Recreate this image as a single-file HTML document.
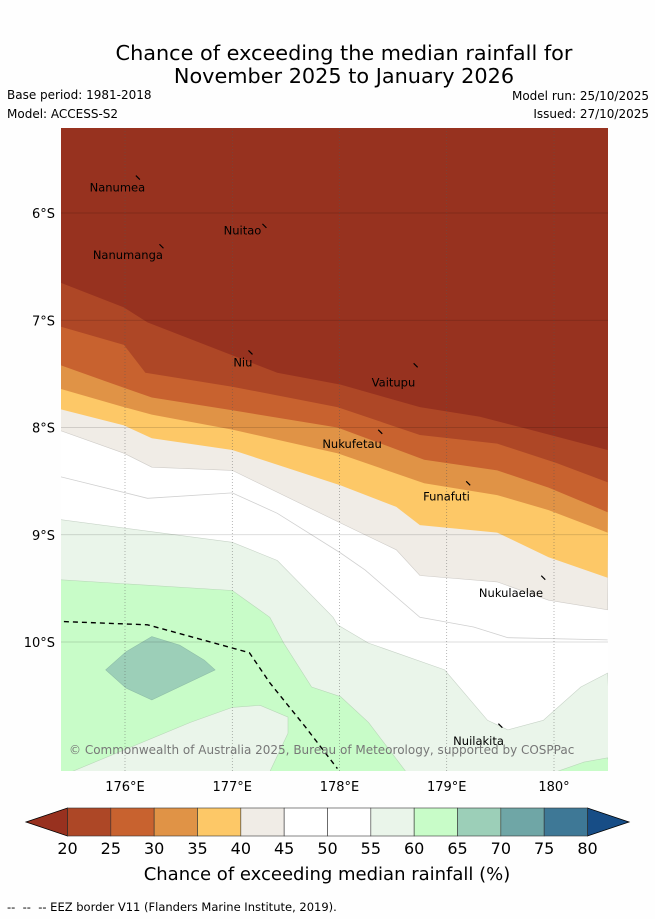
<!DOCTYPE html>
<html><head><meta charset="utf-8"><style>
body{margin:0;background:#fff;}
svg{display:block;font-family:"DejaVu Sans","Liberation Sans",sans-serif;}
</style></head><body>
<svg id="chart" width="655" height="919" viewBox="0 0 655 919">
<rect width="655" height="919" fill="#fefefe"/>
<text x="344" y="60" font-size="20.8" text-anchor="middle">Chance of exceeding the median rainfall for</text>
<text x="344" y="83" font-size="20.8" text-anchor="middle">November 2025 to January 2026</text>
<text x="7" y="99" font-size="12">Base period: 1981-2018</text>
<text x="7" y="118" font-size="12">Model: ACCESS-S2</text>
<text x="649" y="100" font-size="12" text-anchor="end">Model run: 25/10/2025</text>
<text x="649" y="118" font-size="12" text-anchor="end">Issued: 27/10/2025</text>
<g id="map"></g>
<g id="cbar"></g>
<text x="327" y="880" font-size="18" text-anchor="middle">Chance of exceeding median rainfall (%)</text>
<text x="7" y="911" font-size="11.5" xml:space="preserve">--  --  -- EEZ border V11 (Flanders Marine Institute, 2019).</text>
</svg>
<script>
// ---- data ----
const lonTicks = [176,177,178,179,180];
const latTicks = [6,7,8,9,10];
const b20 = [[175.40,6.65],[175.99,6.88],[176.21,7.02],[177.42,7.49],[178.01,7.60],[178.75,7.81],[179.31,7.90],[179.70,8.00],[180.50,8.21]];
const b25 = [[175.40,7.06],[175.99,7.23],[176.19,7.49],[177.00,7.62],[177.98,7.81],[178.75,8.07],[179.47,8.15],[180.02,8.33],[180.50,8.51]];
const b30 = [[175.40,7.42],[175.99,7.63],[176.25,7.72],[177.00,7.84],[177.98,8.00],[178.79,8.30],[179.47,8.40],[179.95,8.56],[180.50,8.79]];
const b35 = [[175.40,7.64],[175.99,7.81],[176.25,7.88],[177.00,8.02],[177.98,8.24],[178.79,8.52],[179.47,8.63],[179.95,8.77],[180.50,8.98]];
const b40 = [[175.40,7.83],[175.99,7.98],[176.25,8.10],[177.00,8.21],[178.01,8.54],[178.53,8.74],[178.75,8.91],[179.47,8.98],[179.95,9.21],[180.50,9.40]];
const b45 = [[175.40,8.03],[175.99,8.24],[176.25,8.37],[177.00,8.40],[178.01,8.89],[178.53,9.14],[178.75,9.38],[179.47,9.44],[179.95,9.61],[180.50,9.70]];
const b50 = [[175.40,8.46],[176.21,8.66],[177.00,8.61],[177.42,8.80],[178.01,9.17],[178.24,9.33],[178.75,9.77],[179.25,9.86],[179.57,9.96],[180.50,9.98]];
const b55 = [[175.40,8.86],[177.00,9.07],[177.42,9.24],[177.94,9.77],[177.98,9.84],[178.27,10.01],[178.98,10.26],[179.38,10.73],[179.57,10.82],[179.90,10.73],[180.25,10.42],[180.50,10.29]];
const b60corner = [[180.02,11.21],[180.28,11.12],[180.50,11.08]];
const b60 = [[175.40,9.42],[177.00,9.52],[177.35,9.77],[177.48,10.01],[177.74,10.42],[178.01,10.51],[178.27,10.75],[178.62,11.21]];
const b60pocket = [[177.35,11.21],[177.52,10.85],[177.52,10.70],[177.26,10.59],[177.00,10.61],[176.61,10.75],[175.50,11.21]];
const b65 = [[175.82,10.26],[176.01,10.09],[176.25,9.95],[176.51,10.03],[176.74,10.17],[176.84,10.26],[176.25,10.54],[176.01,10.43]];
const eez = [[175.43,9.81],[176.21,9.84],[177.16,10.10],[177.35,10.38],[177.68,10.79],[177.98,11.18]];
const islandNames = ["Nanumea","Nuitao","Nanumanga","Niu","Vaitupu","Nukufetau","Funafuti","Nukulaelae","Nuilakita"];
const islandLon = [176.12,177.30,176.34,177.17,178.71,178.38,179.20,179.90,179.50];
const islandLat = [5.67,6.12,6.31,7.30,7.42,8.04,8.52,9.40,10.78];
const labelLon = [175.67,176.92,175.70,177.01,178.30,177.84,178.78,179.30,179.06];
const labelLat = [5.80,6.20,6.43,7.43,7.62,8.19,8.68,9.58,10.96];
const cbLevels = [20,25,30,35,40,45,50,55,60,65,70,75,80];
const cbColors = ["#ad4726","#c8622f","#e09346","#fdc867","#f0ece6","#ffffff","#ffffff","#eaf5ea","#c8fcc8","#9ccfb8","#6fa6a6","#3e7896"];
const cbUnder = "#98311f", cbOver = "#174d86";
const bandColors = {c20:"#97321f",c25:"#ae4726",c30:"#c8622f",c35:"#e09346",c40:"#fdc867",c45:"#f0ece6",c55:"#eaf5ea",c60:"#c8fcc8",c65:"#9ccfb8"};

// ---- axes ----
const L=61,R=608,T=128,B=771;
const x = lon => 125 + (lon-176)*107.25;
const y = lat => 213 + (lat-6)*107.25;
const NS="http://www.w3.org/2000/svg";
const map=document.getElementById('map');
function mk(tag,attrs,parent){const e=document.createElementNS(NS,tag);for(const k in attrs)e.setAttribute(k,attrs[k]);(parent||map).appendChild(e);return e;}
const pts = arr => arr.map(p=>x(p[0]).toFixed(1)+','+y(p[1]).toFixed(1)).join(' ');

const defs=mk('defs',{});
const cp=mk('clipPath',{id:'clip'},defs);mk('rect',{x:L,y:T,width:R-L,height:B-T},cp);
const g=mk('g',{'clip-path':'url(#clip)'});


let r=mk('rect',{x:L,y:T,width:R-L,height:B-T,fill:'#ffffff'},g);


function topBand(line,color,name,stroke){
  const p=mk('polygon',{points:pts(line)+` ${R+5},${T-5} ${L-5},${T-5}`,fill:color,stroke:stroke||'none','stroke-width':0.6},g);
  
  
}
topBand(b45,bandColors.c45,'band-40-45','#cfccc8');
topBand(b40,bandColors.c40,'band-35-40');
topBand(b35,bandColors.c35,'band-30-35');
topBand(b30,bandColors.c30,'band-25-30');
topBand(b25,bandColors.c25,'band-20-25');
topBand(b20,bandColors.c20,'band-below-20');
let p=mk('polyline',{points:pts(b50),fill:'none',stroke:'#d0d0d0','stroke-width':0.8},g);


p=mk('polygon',{points:pts(b55)+` ${R+5},${B+5} ${L-5},${B+5}`,fill:bandColors.c55,stroke:'#c8d4c8','stroke-width':0.6},g);


p=mk('polygon',{points:pts(b60corner)+` ${R+5},${B+5}`,fill:bandColors.c60,stroke:'#b8d8b8','stroke-width':0.6},g);


p=mk('polygon',{points:pts(b60)+' '+pts(b60pocket)+` ${L-5},${B+5}`,fill:bandColors.c60,stroke:'#b8d8b8','stroke-width':0.6},g);


p=mk('polygon',{points:pts(b65),fill:bandColors.c65,stroke:'#8fbfa8','stroke-width':0.6},g);



// gridlines
lonTicks.forEach(v=>{
  const l=mk('line',{x1:x(v),x2:x(v),y1:T,y2:B,stroke:'#555','stroke-width':0.6,'stroke-dasharray':'1,2','stroke-opacity':0.7},g);
  
  
  const t=mk('text',{x:x(v),y:B+20,'font-size':13,'text-anchor':'middle'});
  t.textContent=v===180?'180°':v+'°E';
  
  
});
latTicks.forEach(v=>{
  const l=mk('line',{x1:L,x2:R,y1:y(v),y2:y(v),stroke:'#000','stroke-width':0.8,'stroke-opacity':0.18},g);
  
  
  const t=mk('text',{x:55,y:y(v)+5,'font-size':13,'text-anchor':'end'});
  t.textContent=v+'°S';
  
  
});
// EEZ
p=mk('polyline',{points:pts(eez),fill:'none',stroke:'#000','stroke-width':1.4,'stroke-dasharray':'5,4'},g);


// islands
islandNames.forEach((n,i)=>{
  const m=mk('line',{x1:x(islandLon[i])-2,y1:y(islandLat[i])-2,x2:x(islandLon[i])+2,y2:y(islandLat[i])+2,stroke:'#000','stroke-width':1.2},g);
  
  
  const t=mk('text',{x:x(labelLon[i]),y:y(labelLat[i]),'font-size':11.5,fill:'#000'},g);
  t.textContent=n;
  
  
});
let c=mk('text',{x:69,y:754,'font-size':12,fill:'#777'},g);
c.textContent='© Commonwealth of Australia 2025, Bureau of Meteorology, supported by COSPPac';



// colorbar
const cb=document.getElementById('cbar');
const cx0=67.5,cx1=587.5,cy0=808,cy1=836;
const cbx = v => cx0 + (v-cbLevels[0])/(cbLevels[cbLevels.length-1]-cbLevels[0])*(cx1-cx0);
let a=mk('polygon',{points:`${cx0},${cy0} ${cx0},${cy1} 26,${(cy0+cy1)/2}`,fill:cbUnder,stroke:'#000','stroke-width':0.8},cb);


a=mk('polygon',{points:`${cx1},${cy0} ${cx1},${cy1} 629,${(cy0+cy1)/2}`,fill:cbOver,stroke:'#000','stroke-width':0.8},cb);


cbColors.forEach((col,i)=>{
  const s=mk('rect',{x:cbx(cbLevels[i]),y:cy0,width:cbx(cbLevels[i+1])-cbx(cbLevels[i]),height:cy1-cy0,fill:col,stroke:'#333','stroke-width':0.6},cb);
  
  
});
cbLevels.forEach(v=>{
  const t=mk('text',{x:cbx(v),y:854,'font-size':16,'text-anchor':'middle'},cb);
  t.textContent=v;
  
  
});
</script>
</body></html>
